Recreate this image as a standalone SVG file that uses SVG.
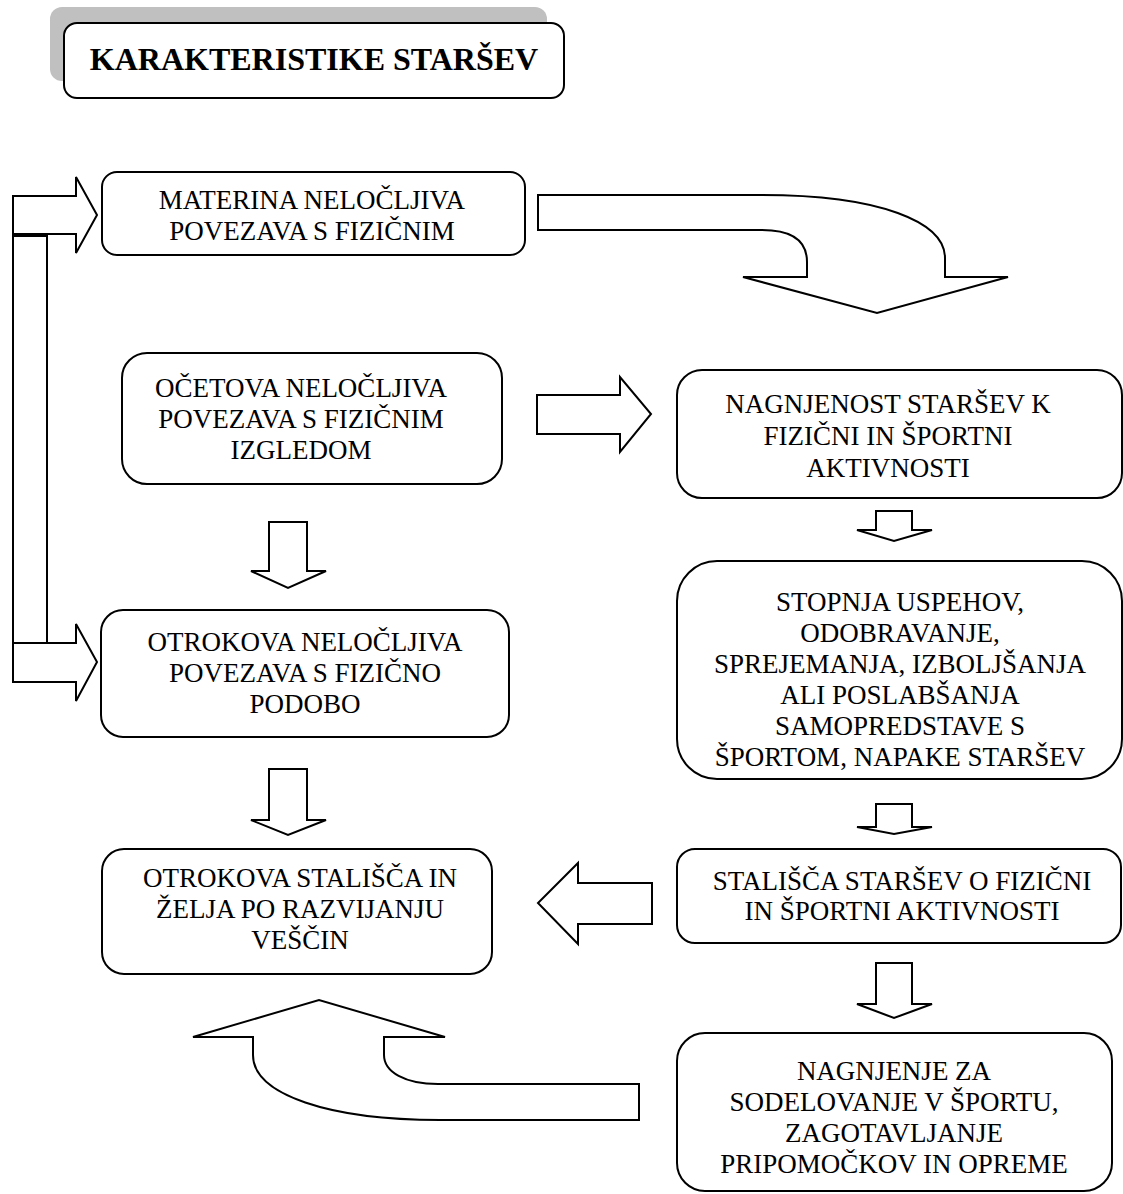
<svg xmlns="http://www.w3.org/2000/svg" width="1123" height="1194" viewBox="0 0 1123 1194">
<style>
.box{fill:#fff;stroke:#000;stroke-width:2}
.arr{fill:#fff;stroke:#000;stroke-width:2;stroke-linejoin:miter}
.t{font-family:"Liberation Serif","Times New Roman",serif;font-size:27px;fill:#000;text-anchor:middle}
.title{font-family:"Liberation Serif","Times New Roman",serif;font-size:32px;font-weight:bold;fill:#000;text-anchor:middle}
</style>
<rect width="1123" height="1194" fill="#fff"/>
<g id="title">
<rect x="50" y="7" width="497" height="74" rx="12" fill="#c0c0c0"/>
<rect class="box" x="64" y="23" width="500" height="75" rx="13"/>
<text class="title" x="314" y="70">KARAKTERISTIKE STARŠEV</text>
</g>
<g id="connectors">
<path class="arr" d="M13 196 L76 196 L76 177 L97 215 L76 253 L76 234 L13 234 Z"/>
<rect class="arr" x="13" y="236" width="34" height="407"/>
<path class="arr" d="M13 643 L76 643 L76 624 L97 662 L76 701 L76 682 L13 682 Z"/>
<path class="arr" d="M538 195 L762 195 C880 195 945 222 945 258 L945 277 L1008 277 L877 313 L743 277 L807 277 L807 262 C807 243 795 230 762 230 L538 230 Z"/>
<path class="arr" d="M537 395 L620 395 L620 377 L651 414 L620 452 L620 434 L537 434 Z"/>
<path class="arr" d="M269 522 L307 522 L307 571 L326 571 L288 588 L251 571 L269 571 Z"/>
<path class="arr" d="M269 769 L307 769 L307 820 L326 820 L288 835 L251 820 L269 820 Z"/>
<path class="arr" d="M876 511 L912 511 L912 530 L932 530 L894 541 L857 530 L876 530 Z"/>
<path class="arr" d="M876 804 L912 804 L912 827 L932 827 L894 834 L857 827 L876 827 Z"/>
<path class="arr" d="M876 963 L912 963 L912 1004 L932 1004 L894 1018 L857 1004 L876 1004 Z"/>
<path class="arr" d="M652 883 L578 883 L578 863 L538 903 L578 944 L578 924 L652 924 Z"/>
<path class="arr" d="M639 1084 L438 1084 C405 1084 384 1072 384 1055 L384 1037 L445 1037 L319 1000 L193 1037 L253 1037 L253 1055 C253 1095 330 1120 440 1120 L639 1120 Z"/>
</g>
<g id="n1">
<rect class="box" x="102" y="172" width="423" height="83" rx="15"/>
<text class="t" x="312" y="209">MATERINA NELOČLJIVA</text>
<text class="t" x="312" y="240">POVEZAVA S FIZIČNIM</text>
</g>
<g id="n2">
<rect class="box" x="122" y="353" width="380" height="131" rx="25"/>
<text class="t" x="301" y="397">OČETOVA NELOČLJIVA</text>
<text class="t" x="301" y="428">POVEZAVA S FIZIČNIM</text>
<text class="t" x="301" y="459">IZGLEDOM</text>
</g>
<g id="n3">
<rect class="box" x="101" y="610" width="408" height="127" rx="22"/>
<text class="t" x="305" y="651">OTROKOVA NELOČLJIVA</text>
<text class="t" x="305" y="682">POVEZAVA S FIZIČNO</text>
<text class="t" x="305" y="713">PODOBO</text>
</g>
<g id="n4">
<rect class="box" x="102" y="849" width="390" height="125" rx="22"/>
<text class="t" x="300" y="887">OTROKOVA STALIŠČA IN</text>
<text class="t" x="300" y="918">ŽELJA PO RAZVIJANJU</text>
<text class="t" x="300" y="949">VEŠČIN</text>
</g>
<g id="n5">
<rect class="box" x="677" y="370" width="445" height="128" rx="25"/>
<text class="t" x="888" y="413">NAGNJENOST STARŠEV K</text>
<text class="t" x="888" y="445">FIZIČNI IN ŠPORTNI</text>
<text class="t" x="888" y="477">AKTIVNOSTI</text>
</g>
<g id="n6">
<rect class="box" x="677" y="561" width="445" height="218" rx="40"/>
<text class="t" x="900" y="611">STOPNJA USPEHOV,</text>
<text class="t" x="900" y="642">ODOBRAVANJE,</text>
<text class="t" x="900" y="673">SPREJEMANJA, IZBOLJŠANJA</text>
<text class="t" x="900" y="704">ALI POSLABŠANJA</text>
<text class="t" x="900" y="735">SAMOPREDSTAVE S</text>
<text class="t" x="900" y="766">ŠPORTOM, NAPAKE STARŠEV</text>
</g>
<g id="n7">
<rect class="box" x="677" y="849" width="444" height="94" rx="18"/>
<text class="t" x="902" y="890">STALIŠČA STARŠEV O FIZIČNI</text>
<text class="t" x="902" y="920">IN ŠPORTNI AKTIVNOSTI</text>
</g>
<g id="n8">
<rect class="box" x="677" y="1033" width="435" height="158" rx="28"/>
<text class="t" x="894" y="1080">NAGNJENJE ZA</text>
<text class="t" x="894" y="1111">SODELOVANJE V ŠPORTU,</text>
<text class="t" x="894" y="1142">ZAGOTAVLJANJE</text>
<text class="t" x="894" y="1173">PRIPOMOČKOV IN OPREME</text>
</g>
</svg>
